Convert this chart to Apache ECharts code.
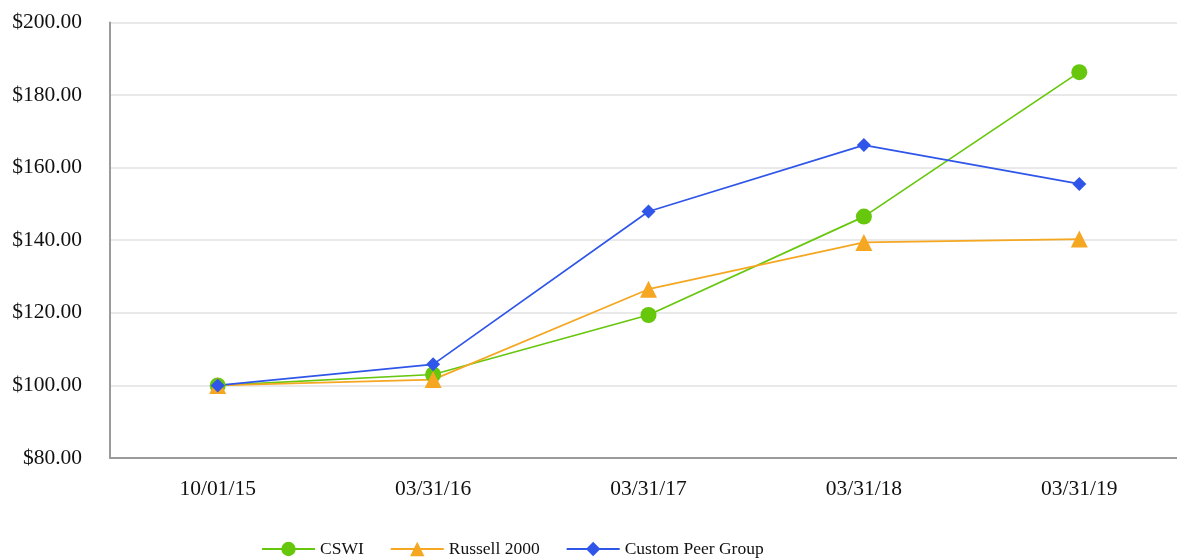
<!DOCTYPE html>
<html>
<head>
<meta charset="utf-8">
<script src="https://cdn.jsdelivr.net/npm/echarts@6/dist/echarts.min.js"></script>
<style>
  html, body { margin: 0; padding: 0; background: #fff; overflow: hidden; }
  #chart { width: 1177px; height: 558px; }
</style>
</head>
<body>
<div id="chart"></div>
<script>
// Cumulative total return of $100 invested
const categories = ['10/01/15', '03/31/16', '03/31/17', '03/31/18', '03/31/19'];
const cswi    = [100.00, 103.00, 119.40, 146.50, 186.30];
const russell = [100.00, 101.60, 126.50, 139.40, 140.30];
const peer    = [100.00, 105.80, 147.90, 166.20, 155.50];

const FONT = '"Liberation Serif", "Times New Roman", serif';

const chart = echarts.init(document.getElementById('chart'), null, { renderer: 'canvas' });

function lineSeries(name, data, color, symbol, size) {
  return {
    name: name,
    type: 'line',
    data: data,
    symbol: symbol,
    symbolSize: size,
    showAllSymbol: true,
    lineStyle: { color: color, width: 1.7 },
    itemStyle: { color: color },
    emphasis: { disabled: true },
    animation: false
  };
}

chart.setOption({
  backgroundColor: '#ffffff',
  animation: false,
  // plot area runs slightly past the right edge of the canvas
  grid: { left: 110, width: 1077, top: 22.4, bottom: 100, outerBoundsMode: 'none' },
  legend: {
    left: 261,
    top: 540,
    padding: 0,
    itemWidth: 53,
    itemHeight: 18,
    itemGap: 26,
    textStyle: { fontFamily: FONT, fontSize: 17.5, color: '#111' },
    data: ['CSWI', 'Russell 2000', 'Custom Peer Group']
  },
  xAxis: {
    type: 'category',
    data: categories,
    boundaryGap: true,
    axisLine: { show: true, lineStyle: { color: '#9a9a9a', width: 2 } },
    axisTick: { show: false },
    axisLabel: { fontFamily: FONT, fontSize: 21.5, color: '#111', margin: 20 }
  },
  yAxis: {
    type: 'value',
    min: 80,
    max: 200,
    interval: 20,
    axisLine: { show: true, lineStyle: { color: '#9a9a9a', width: 2 } },
    axisTick: { show: false },
    splitLine: { lineStyle: { color: '#e2e2e2', width: 1.5 } },
    axisLabel: {
      fontFamily: FONT, fontSize: 21.5, color: '#111', margin: 28,
      formatter: v => '$' + v.toFixed(2)
    }
  },
  series: [
    lineSeries('CSWI', cswi, '#66c70d', 'circle', 16),
    lineSeries('Russell 2000', russell, '#f5a722', 'triangle', 17),
    lineSeries('Custom Peer Group', peer, '#2f56e9', 'diamond', 14)
  ]
});
</script>
</body>
</html>
